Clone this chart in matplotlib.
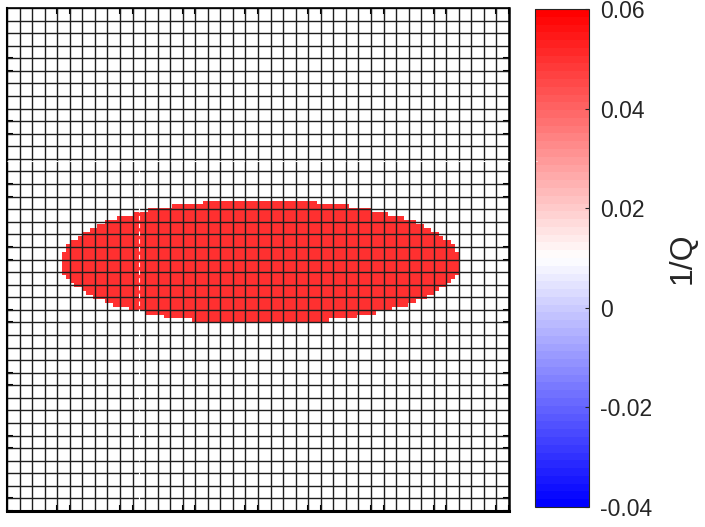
import numpy as np
import matplotlib
import matplotlib.pyplot as plt

matplotlib.use('Agg')

# grid of cells and the elliptic inclusion (in cell units, y from top)
n_cells = 40
n_fine = 128
ellipse_center = (20.15, 20.2)
ellipse_semi_axes = (15.9, 4.95)
ellipse_value = 0.05

# axis tick marks (cell units)
tick_pos = [4, 5, 9, 10, 14, 15, 19, 20, 24, 25, 29, 30, 34, 35, 39, 40]

# colorbar
cbar_ticks = [-0.04, -0.02, 0, 0.02, 0.04, 0.06]
cbar_labels = ['-0.04', '-0.02', '0', '0.02', '0.04', '0.06']
cbar_title = '1/Q'

plt.rcParams['font.family'] = ['Liberation Sans', 'DejaVu Sans']

fig = plt.figure(figsize=(7.05, 5.27), dpi=100)
ax = fig.add_axes([7 / 705, 1 - 511 / 527, 502 / 705, 503 / 527])
cax = fig.add_axes([535 / 705, 1 - 507 / 527, 54 / 705, 498 / 527])

c = (np.arange(n_fine) + 0.5) * n_cells / n_fine
X, Y = np.meshgrid(c, c)
inside = ((X - ellipse_center[0]) / ellipse_semi_axes[0]) ** 2 + \
         ((Y - ellipse_center[1]) / ellipse_semi_axes[1]) ** 2 <= 1
field = np.where(inside, ellipse_value, np.nan)

cmap = plt.get_cmap('bwr', 64).copy()
cmap.set_bad((1, 1, 1, 0))
im = ax.imshow(field, cmap=cmap, vmin=-0.04, vmax=0.06, extent=(0, n_cells, n_cells, 0),
               interpolation='nearest', aspect='auto')

# cell mesh
lines = np.arange(n_cells + 1)
ax.vlines(lines, 0, n_cells, colors='#1e1e1e', linewidth=1.0, zorder=3)
ax.hlines(lines, 0, n_cells, colors='#1e1e1e', linewidth=1.0, zorder=3)

# rendering seams seen in the original
ax.plot([10.52, 10.52], [12.17, n_cells], color='white', linewidth=0.8, dashes=(4, 3), zorder=4)
fig.add_artist(plt.Line2D([7 / 705, 537 / 705], [1 - 161 / 527, 1 - 161 / 527], color='white',
                          linewidth=0.8, dashes=(4, 3), zorder=10))

ax.set_xlim(0, n_cells)
ax.set_ylim(n_cells, 0)
ax.set_xticks(tick_pos)
ax.set_yticks(tick_pos)
ax.tick_params(direction='in', length=4, width=1.5, color='black', top=True, right=True,
               labelbottom=False, labelleft=False)
for side, lw in [('left', 1.5), ('top', 1.2), ('right', 1.8), ('bottom', 2.2)]:
    ax.spines[side].set_linewidth(lw)
    ax.spines[side].set_color('black')
    ax.spines[side].set_zorder(5)

cb = fig.colorbar(im, cax=cax)
cb.outline.set_linewidth(0.8)
cb.outline.set_edgecolor('#262626')
cb.set_ticks(cbar_ticks)
cb.set_ticklabels(cbar_labels)
cax.tick_params(direction='in', length=3, width=0.8, color='#262626', labelsize=16.5,
                labelcolor='#262626', pad=8)
cb.set_label(cbar_title, fontsize=23, color='#262626', labelpad=11)

fig.savefig('out.png', dpi=100)
